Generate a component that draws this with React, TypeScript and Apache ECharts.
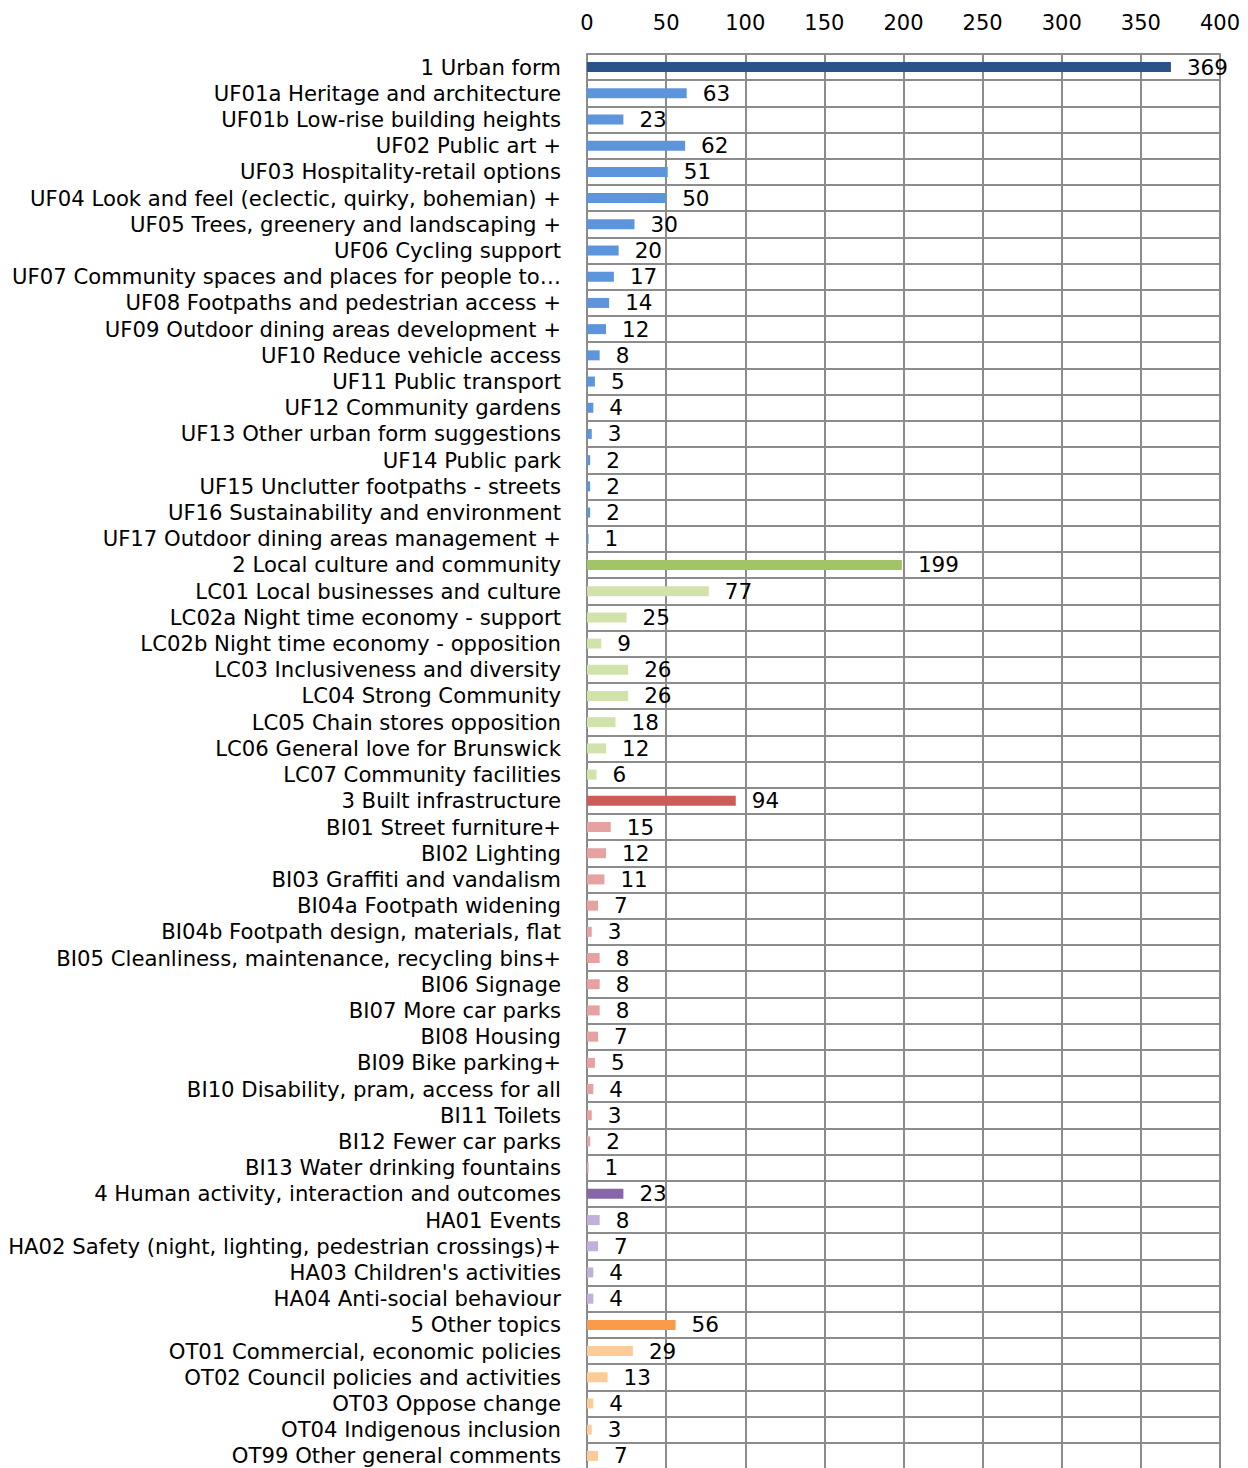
import React, { useEffect, useRef } from "react";
import * as echarts from "echarts";

const categories: string[] = [
  "1 Urban form",
  "UF01a Heritage and architecture",
  "UF01b Low-rise building heights",
  "UF02 Public art +",
  "UF03 Hospitality-retail options",
  "UF04 Look and feel (eclectic, quirky, bohemian) +",
  "UF05 Trees, greenery and landscaping +",
  "UF06 Cycling support",
  "UF07 Community spaces and places for people to…",
  "UF08 Footpaths and pedestrian access +",
  "UF09 Outdoor dining areas development +",
  "UF10 Reduce vehicle access",
  "UF11 Public transport",
  "UF12 Community gardens",
  "UF13 Other urban form suggestions",
  "UF14 Public park",
  "UF15 Unclutter footpaths - streets",
  "UF16 Sustainability and environment",
  "UF17 Outdoor dining areas management +",
  "2 Local culture and community",
  "LC01 Local businesses and culture",
  "LC02a Night time economy - support",
  "LC02b Night time economy - opposition",
  "LC03 Inclusiveness and diversity",
  "LC04 Strong Community",
  "LC05 Chain stores opposition",
  "LC06 General love for Brunswick",
  "LC07 Community facilities",
  "3 Built infrastructure",
  "BI01 Street furniture+",
  "BI02 Lighting",
  "BI03 Graffiti and vandalism",
  "BI04a Footpath widening",
  "BI04b Footpath design, materials, flat",
  "BI05 Cleanliness, maintenance, recycling bins+",
  "BI06 Signage",
  "BI07 More car parks",
  "BI08 Housing",
  "BI09 Bike parking+",
  "BI10 Disability, pram, access for all",
  "BI11 Toilets",
  "BI12 Fewer car parks",
  "BI13 Water drinking fountains",
  "4 Human activity, interaction and outcomes",
  "HA01 Events",
  "HA02 Safety (night, lighting, pedestrian crossings)+",
  "HA03 Children's activities",
  "HA04 Anti-social behaviour",
  "5 Other topics",
  "OT01 Commercial, economic policies",
  "OT02 Council policies and activities",
  "OT03 Oppose change",
  "OT04 Indigenous inclusion",
  "OT99 Other general comments",
];

const values: number[] = [
  369, 63, 23, 62, 51, 50, 30, 20, 17, 14, 12, 8, 5, 4, 3, 2, 2, 2, 1,
  199, 77, 25, 9, 26, 26, 18, 12, 6,
  94, 15, 12, 11, 7, 3, 8, 8, 8, 7, 5, 4, 3, 2, 1,
  23, 8, 7, 4, 4,
  56, 29, 13, 4, 3, 7,
];

const groupPrefixes: string[][] = [
  ["1", "UF"],
  ["2", "LC"],
  ["3", "BI"],
  ["4", "HA"],
  ["5", "OT"],
];
const parentColors: string[] = ["#2b5389", "#a1c466", "#cc5c59", "#8766a9", "#f99b4a"];
const childColors: string[] = ["#5d95dc", "#d1e3ab", "#e5a2a1", "#c1b0d9", "#fdcb98"];

const xTicks = { min: 0, max: 400, interval: 50 };

function colorFor(name: string): string {
  for (let g = 0; g < groupPrefixes.length; g++) {
    const [parent, child] = groupPrefixes[g];
    if (name.startsWith(parent + " ")) return parentColors[g];
    if (name.startsWith(child)) return childColors[g];
  }
  return "#888";
}

const FONT = "DejaVu Sans";
const GRID = "#8c8c8c";

export default function App() {
  const ref = useRef<HTMLDivElement>(null);
  useEffect(() => {
    if (!ref.current) return;
    const chart = echarts.init(ref.current, undefined, { renderer: "svg" });
    chart.setOption({
      animation: false,
      backgroundColor: "#ffffff",
      textStyle: { fontFamily: FONT },
      grid: { left: 587, right: 28, top: 54, height: 1415, containLabel: false },
      xAxis: {
        type: "value",
        position: "top",
        min: xTicks.min,
        max: xTicks.max,
        interval: xTicks.interval,
        axisLine: { show: true, lineStyle: { color: GRID, width: 2 } },
        axisTick: { show: false },
        axisLabel: { fontSize: 21, color: "#000", fontFamily: FONT, margin: 21 },
        splitLine: { show: true, lineStyle: { color: GRID, width: 2 } },
      },
      yAxis: {
        type: "category",
        inverse: true,
        data: categories,
        axisLine: { show: true, lineStyle: { color: GRID, width: 2 } },
        axisTick: { show: false },
        axisLabel: {
          fontSize: 21.2,
          lineHeight: 24,
          padding: [2, 0, 0, 0],
          color: "#000",
          fontFamily: FONT,
          margin: 26,
          interval: 0,
        },
        splitLine: { show: true, interval: 0, lineStyle: { color: GRID, width: 2 } },
      },
      series: [
        {
          type: "bar",
          barWidth: 10,
          data: values.map((v, i) => ({
            value: v,
            itemStyle: { color: colorFor(categories[i]) },
          })),
          label: {
            show: true,
            position: "right",
            distance: 16,
            fontSize: 21.5,
            lineHeight: 24,
            padding: [2, 0, 0, 0],
            color: "#000",
            fontFamily: FONT,
          },
        },
      ],
    });
    return () => chart.dispose();
  }, []);
  return (
    <div
      ref={ref}
      style={{ position: "absolute", left: 0, top: 0, width: 1248, height: 1480, background: "#fff" }}
    />
  );
}
